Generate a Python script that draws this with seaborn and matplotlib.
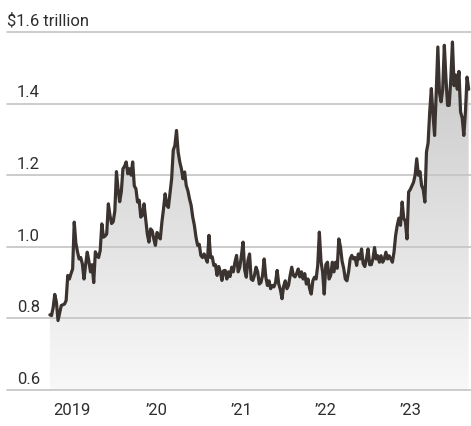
import numpy as np
import pandas as pd
import matplotlib
matplotlib.use("Agg")
import matplotlib.pyplot as plt
import matplotlib.dates as mdates
from matplotlib.colors import LinearSegmentedColormap
import seaborn as sns

# ---- data (trillions of dollars, weekly) ----
start_date = "2018-09-28"
vals_2018 = [0.81, 0.808, 0.83, 0.867, 0.846, 0.794, 0.815, 0.836, 0.838, 0.84,
             0.85, 0.92, 0.91]
vals_2019 = [0.925, 0.938, 1.069, 1.01, 0.986, 0.966, 0.97, 0.952, 0.91, 0.95,
             0.985, 0.96, 0.93, 0.95, 0.90, 0.986, 0.975, 0.97, 0.99, 1.064,
             1.027, 1.03, 1.036, 1.12, 1.088, 1.065, 1.07, 1.10, 1.21, 1.16,
             1.126, 1.154, 1.218, 1.225, 1.237, 1.204, 1.218, 1.2, 1.237, 1.17,
             1.162, 1.125, 1.13, 1.083, 1.088, 1.12, 1.078, 1.036, 1.013, 1.05,
             1.045, 1.022, 1.004]
vals_2020 = [1.04, 1.03, 1.022, 1.069, 1.106, 1.148, 1.116, 1.11, 1.15, 1.19,
             1.27, 1.283, 1.325, 1.265, 1.237, 1.218, 1.19, 1.209, 1.171, 1.157,
             1.134, 1.116, 1.083, 1.06, 1.027, 1.004, 1.007, 0.976, 0.97, 0.98,
             0.968, 0.957, 1.032, 0.97, 0.972, 0.948, 0.95, 0.92, 0.945, 0.93,
             0.906, 0.933, 0.934, 0.91, 0.93, 0.917, 0.943, 0.93, 0.957, 0.976,
             0.93, 0.943]
vals_2021 = [0.976, 1.013, 0.935, 0.915, 0.962, 0.98, 0.91, 0.906, 0.92, 0.943,
             0.93, 0.896, 0.9, 0.92, 0.966, 0.916, 0.892, 0.905, 0.883, 0.892,
             0.888, 0.90, 0.934, 0.896, 0.88, 0.855, 0.89, 0.905, 0.883, 0.892,
             0.92, 0.943, 0.92, 0.916, 0.925, 0.938, 0.916, 0.93, 0.91, 0.925,
             0.896, 0.91, 0.883, 0.868, 0.905, 0.915, 0.91, 0.948, 1.041, 0.96,
             0.93, 0.868]
vals_2022 = [0.95, 0.957, 0.91, 0.92, 0.957, 0.93, 0.957, 0.94, 1.022, 1.0,
             0.96, 0.94, 0.91, 0.905, 0.93, 0.966, 0.976, 0.966, 0.97, 0.948,
             0.98, 0.966, 0.994, 0.953, 0.945, 0.966, 0.994, 0.95, 0.95, 0.966,
             0.998, 0.966, 0.975, 0.957, 0.975, 0.957, 0.966, 0.985, 0.966, 0.975,
             0.966, 0.957, 0.985, 1.032, 1.06, 1.08, 1.06, 1.125, 1.08, 1.07,
             1.022, 1.153]
vals_2023 = [1.16, 1.17, 1.18, 1.2, 1.246, 1.2, 1.21, 1.171, 1.16, 1.125,
             1.265, 1.29, 1.377, 1.442, 1.37, 1.311, 1.43, 1.558, 1.43, 1.405,
             1.44, 1.563, 1.47, 1.395, 1.395, 1.47, 1.572, 1.45, 1.48, 1.44,
             1.49, 1.377, 1.36, 1.311, 1.377, 1.474, 1.44]

y_ticks = [0.6, 0.8, 1.0, 1.2, 1.4, 1.6]
y_labels = ["0.6", "0.8", "1.0", "1.2", "1.4", "$1.6 trillion"]
x_tick_dates = ["2019-01-01", "2020-01-01", "2021-01-01", "2022-01-01", "2023-01-01"]
x_tick_labels = ["2019", "\u201920", "\u201921", "\u201922", "\u201923"]

values = vals_2018 + vals_2019 + vals_2020 + vals_2021 + vals_2022 + vals_2023
dates = pd.date_range(start_date, periods=len(values), freq="7D")
df = pd.DataFrame({"date": dates, "value": values})

# ---- style ----
sns.set_style("white")
plt.rcParams["font.family"] = ["Roboto", "DejaVu Sans"]
text_color = "#2e2e2e"
grid_color = "#c4c4c4"
line_color = "#3a3330"

W, H = 471, 427
fig = plt.figure(figsize=(W / 100, H / 100), dpi=100)
ax = fig.add_axes([7 / W, 1 - 391 / H, 464 / W, (391 - 33) / H])

x0 = mdates.date2num(pd.Timestamp("2018-03-27"))
x1 = mdates.date2num(pd.Timestamp("2023-09-18"))
ax.set_xlim(x0, x1)
ax.set_ylim(0.6, 1.6)

# gradient area fill
poly = ax.fill_between(df["date"], df["value"], 0.6, color="none", lw=0)
cmap = LinearSegmentedColormap.from_list("g", ["#f8f8f8", "#c6c6c6"])
grad = np.linspace(0, 1, 256).reshape(-1, 1)
im = ax.imshow(grad, cmap=cmap, aspect="auto", origin="lower",
               extent=[x0, x1, 0.6, 1.6], zorder=1, interpolation="bilinear")
path = poly.get_paths()[0]
im.set_clip_path(path, transform=ax.transData)

# grid lines
for yv in y_ticks:
    ax.axhline(yv, color=grid_color, lw=1.2, zorder=2, clip_on=False)

sns.lineplot(data=df, x="date", y="value", ax=ax, color=line_color,
             linewidth=2.3, zorder=3)
for l in ax.lines:
    l.set_solid_joinstyle("round")
    l.set_solid_capstyle("round")

# y labels
for yv, lab in zip(y_ticks, y_labels):
    xpos = 0.0 if "$" in lab else 10 / 464
    ax.annotate(lab, xy=(xpos, yv), xycoords=("axes fraction", "data"),
                xytext=(0, 3), textcoords="offset points",
                ha="left", va="bottom", fontsize=12, color=text_color)

ax.set_yticks([])
ax.set_ylabel("")
ax.set_xlabel("")
ax.set_xticks(pd.to_datetime(x_tick_dates))
ax.set_xticklabels(x_tick_labels, fontsize=12, color=text_color)
ax.tick_params(axis="x", length=5, width=1.2, color="#666666", pad=4,
               direction="out")
for s in ax.spines.values():
    s.set_visible(False)

fig.savefig("out.png", dpi=100)
